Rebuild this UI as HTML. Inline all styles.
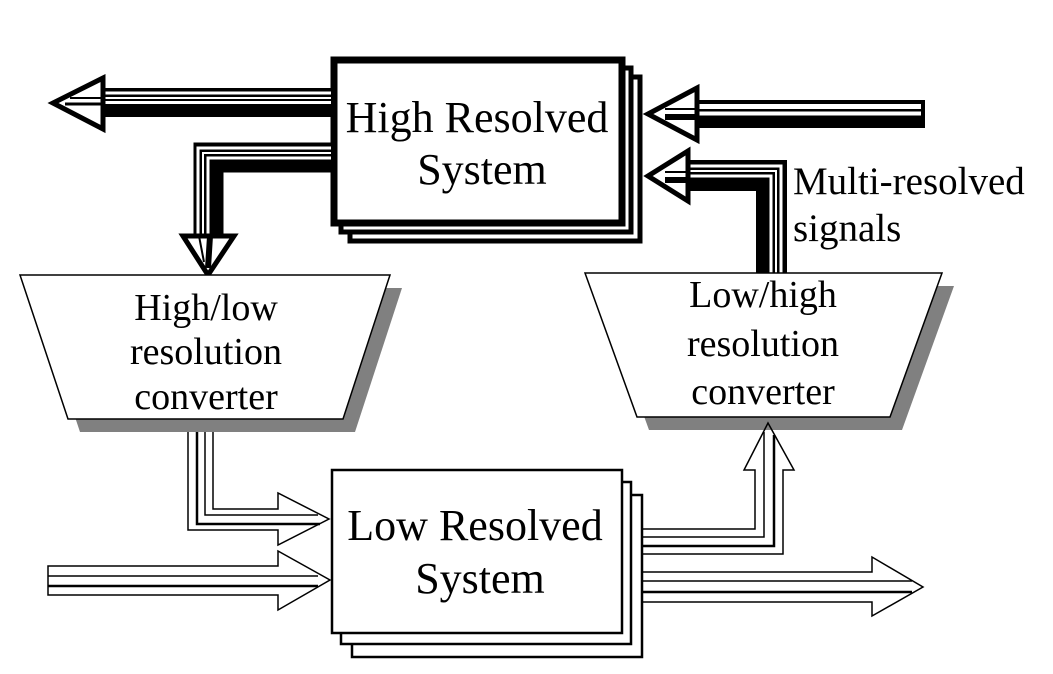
<!DOCTYPE html>
<html><head><meta charset="utf-8"><style>
html,body{margin:0;padding:0;background:#fff;}
svg{display:block;}
text{font-family:"Liberation Serif",serif;fill:#000;}
</style></head><body>
<svg width="1053" height="674" viewBox="0 0 1053 674" xmlns="http://www.w3.org/2000/svg">
<rect x="350" y="77" width="290" height="164" fill="#fff" stroke="#000" stroke-width="5"/>
<rect x="341" y="68" width="290" height="164" fill="#fff" stroke="#000" stroke-width="5"/>
<rect x="334" y="60" width="288" height="163" fill="#fff" stroke="#000" stroke-width="7"/>
<text x="477" y="132" font-size="44" text-anchor="middle">High Resolved</text>
<text x="482" y="184" font-size="44" text-anchor="middle">System</text>

<rect x="100" y="88" width="233" height="29" fill="#000"/>
<rect x="100" y="91.5" width="231" height="3" fill="#fff"/>
<rect x="100" y="97" width="231" height="2" fill="#fff"/>
<rect x="100" y="101" width="231" height="3" fill="#fff"/>
<polygon points="103,78 53,103 103,129" fill="#fff" stroke="#000" stroke-width="5" stroke-linejoin="miter"/>
<line x1="70" y1="98" x2="103" y2="98" stroke="#000" stroke-width="2"/>
<line x1="65" y1="104" x2="103" y2="104" stroke="#000" stroke-width="3"/>

<path d="M333,157.5 L208.5,157.5 L208.5,236" fill="none" stroke="#000" stroke-width="30"/>
<path d="M331,148 L198,148 L198,236" fill="none" stroke="#fff" stroke-width="3"/>
<path d="M331,153 L203,153 L203,236" fill="none" stroke="#fff" stroke-width="2"/>
<path d="M331,158 L208,158 L208,236" fill="none" stroke="#fff" stroke-width="3"/>
<polygon points="183,236 208,275 234,236" fill="#fff" stroke="#000" stroke-width="5"/>
<line x1="199" y1="236" x2="204" y2="262" stroke="#000" stroke-width="2"/>
<line x1="210" y1="236" x2="208" y2="268" stroke="#000" stroke-width="6"/>

<rect x="695" y="100" width="230" height="28" fill="#000"/>
<rect x="695" y="104" width="226" height="5" fill="#fff"/>
<rect x="695" y="111.5" width="226" height="4" fill="#fff"/>
<polygon points="697,88 648,114 697,140" fill="#fff" stroke="#000" stroke-width="5"/>
<line x1="665" y1="109" x2="697" y2="109" stroke="#000" stroke-width="2"/>
<line x1="665" y1="117" x2="697" y2="117" stroke="#000" stroke-width="6"/>

<path d="M771.5,274 L771.5,175.5 L686,175.5" fill="none" stroke="#000" stroke-width="31"/>
<path d="M781,274 L781,166 L686,166" fill="none" stroke="#fff" stroke-width="3"/>
<path d="M776,274 L776,171 L686,171" fill="none" stroke="#fff" stroke-width="2"/>
<path d="M771,274 L771,176 L686,176" fill="none" stroke="#fff" stroke-width="3"/>
<polygon points="688,151 648,176 688,201" fill="#fff" stroke="#000" stroke-width="5"/>
<line x1="665" y1="172" x2="688" y2="172" stroke="#000" stroke-width="2"/>
<line x1="665" y1="180" x2="688" y2="180" stroke="#000" stroke-width="6"/>

<text x="793" y="194" font-size="39">Multi-resolved</text>
<text x="793" y="241" font-size="39">signals</text>

<polygon points="32,288 402,288 355,432 80,432" fill="#808080"/>
<polygon points="20,275 390,275 343,419 68,419" fill="#fff" stroke="#000" stroke-width="1.5"/>
<text x="206" y="320" font-size="38" text-anchor="middle">High/low</text>
<text x="206" y="364" font-size="38" text-anchor="middle">resolution</text>
<text x="206" y="409" font-size="38" text-anchor="middle">converter</text>

<polygon points="597,286 954,286 902,430 649,430" fill="#808080"/>
<polygon points="585,273 942,273 890,417 637,417" fill="#fff" stroke="#000" stroke-width="1.5"/>
<text x="763" y="307" font-size="38" text-anchor="middle">Low/high</text>
<text x="763" y="356" font-size="38" text-anchor="middle">resolution</text>
<text x="763" y="404" font-size="38" text-anchor="middle">converter</text>

<rect x="352" y="495" width="290" height="162" fill="#fff" stroke="#000" stroke-width="2.5"/>
<rect x="341" y="482" width="290" height="162" fill="#fff" stroke="#000" stroke-width="2.5"/>
<rect x="332" y="470" width="290" height="163" fill="#fff" stroke="#000" stroke-width="2.5"/>
<text x="475" y="540" font-size="44" text-anchor="middle">Low Resolved</text>
<text x="480" y="593" font-size="44" text-anchor="middle">System</text>

<g fill="none" stroke="#000" stroke-width="1.5">
<path d="M188,432 L188,530 L278,530 L278,545 L329,519 L278,493 L278,509 L213,509 L213,432"/>
<path d="M197,432 L197,524 L320,524" stroke-width="2.5"/>
<path d="M205,432 L205,515 L318,515"/>
</g>
<g fill="none" stroke="#000" stroke-width="1.5">
<path d="M48,566 L278,566 L278,551 L330,580 L278,610 L278,595 L48,595 Z"/>
<line x1="48" y1="576" x2="318" y2="576"/>
<line x1="48" y1="586" x2="318" y2="586" stroke-width="2.5"/>
</g>

<g fill="none" stroke="#000" stroke-width="1.5">
<path d="M642,529 L755,529 L755,470 L744,470 L768,423 L794,470 L783,470 L783,554 L642,554"/>
<path d="M642,537 L764,537 L764,432"/>
<path d="M642,546 L774,546 L774,435" stroke-width="2.5"/>
</g>
<g fill="none" stroke="#000" stroke-width="1.5">
<path d="M642,572 L872,572 L872,557 L923,587 L872,616 L872,602 L642,602"/>
<line x1="642" y1="581" x2="912" y2="581"/>
<line x1="642" y1="592" x2="912" y2="592" stroke-width="2.5"/>
</g>
</svg>
</body></html>
